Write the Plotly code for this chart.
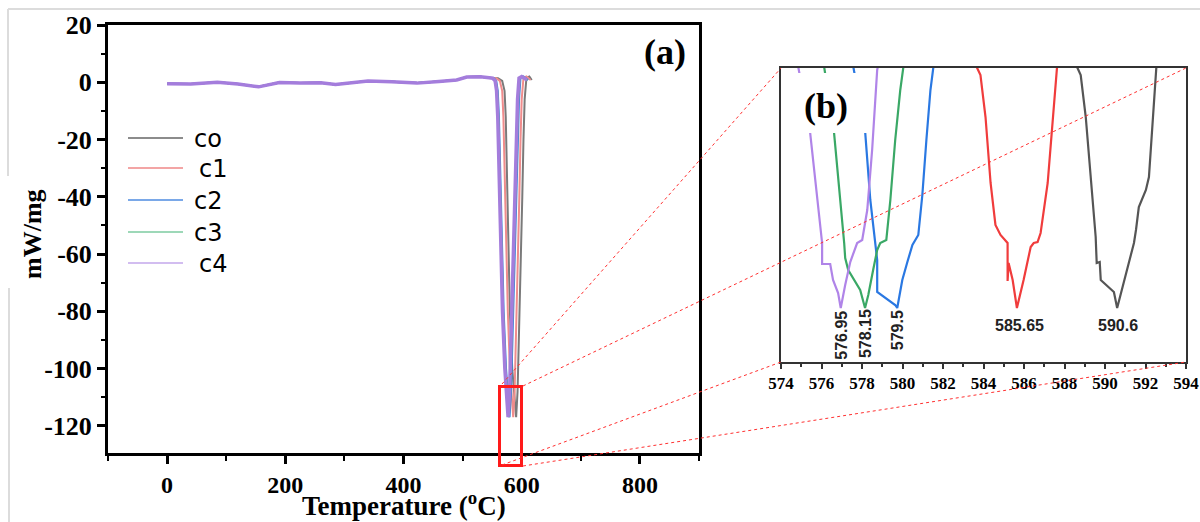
import plotly.graph_objects as go

# ---------------- data ----------------
series_names = ["co", "c1", "c2", "c3", "c4"]
peak_labels = ["590.6", "585.65", "579.5", "578.15", "576.95"]
peak_temps = [590.6, 585.65, 579.5, 578.15, 576.95]

x_ticks = [0, 200, 400, 600, 800]
y_ticks = [20, 0, -20, -40, -60, -80, -100, -120]
y_tick_text = ["20", "0", "-20", "-40", "-60", "-80", "-100", "-120"]
zoom_ticks = [574, 576, 578, 580, 582, 584, 586, 588, 590, 592, 594]

# shared baseline (T, mW/mg)
base_T = [0, 40, 85, 120, 155, 190, 225, 260, 285, 320, 340, 380, 423, 460, 490, 507, 530, 545]
base_v = [-0.5, -0.6, 0.0, -0.6, -1.6, -0.1, -0.3, -0.2, -0.8, 0.0, 0.4, 0.2, -0.3, 0.3, 0.8, 1.8, 1.9, 1.6]

# melting peak segments in panel (a)
peak_v = [1.6, 1.4, 0.5, -3, -12, -30, -55, -80, -100, -112, -117, -108, -85, -62, -40, -20, -6, 1.5, 2.0, 0.8]
co_T = [550, 560, 567, 571, 573, 575, 577, 580, 584, 588, 590.6, 593, 596, 598.5, 601, 603, 605, 608, 613, 617]
c1_T = [549, 557, 563, 567, 569, 571, 573.5, 576.5, 580, 583.5, 585.65, 588, 591, 593.5, 596, 598, 600, 603, 608, 615]
c2_T = [548, 553, 557, 559.5, 561.5, 563.5, 566, 569.5, 573.5, 577.5, 579.5, 582, 585, 588, 591, 593.5, 595.5, 598, 603, 611]
c3_T = [548, 552, 556, 558.5, 560.5, 562.5, 565, 568.5, 572.5, 576, 578.15, 580.5, 583.5, 586.5, 589.5, 592, 594, 596.5, 601, 610]
c4_T = [547, 551, 555, 557.5, 559.5, 561.5, 564, 567.5, 571.5, 575, 576.95, 579.5, 582.5, 585.5, 588.5, 591, 593, 595.5, 600, 609]
main_T = [co_T, c1_T, c2_T, c3_T, c4_T]

# zoomed peak bottoms, panel (b)
co_zT = [588.46, 588.80, 589.05, 589.30, 589.54, 589.59, 589.74, 589.79, 590.44, 590.60, 591.13, 591.43, 591.53, 591.67, 592.02, 592.17, 592.37, 592.47, 592.56]
co_zv = [-92.2, -93.7, -97.9, -104.5, -109.9, -112.5, -112.4, -114.2, -115.4, -117.0, -112.9, -110.5, -109.2, -106.9, -105.2, -103.9, -97.9, -94.5, -92.2]
c1_zT = [583.50, 583.85, 584.10, 584.35, 584.59, 584.84, 585.19, 585.19, 585.24, 585.44, 585.65, 585.98, 586.33, 586.48, 586.67, 586.82, 587.17, 587.42, 587.56, 587.66]
c1_zv = [-92.2, -93.7, -97.9, -104.5, -108.7, -109.7, -110.5, -114.3, -112.5, -114.2, -117.0, -114.2, -110.9, -110.5, -110.4, -109.5, -104.5, -97.9, -94.5, -92.2]
c2_zT = [577.51, 578.16, 578.41, 578.65, 578.75, 578.75, 579.30, 579.64, 579.74, 579.99, 580.24, 580.49, 580.78, 580.98, 581.18, 581.38, 581.57]
c2_zv = [-92.2, -99.5, -106.2, -110.5, -112.2, -115.4, -116.2, -116.7, -117.0, -114.2, -112.4, -110.7, -109.7, -105.7, -100.2, -95.2, -92.2]
c3_zT = [576.08, 576.62, 577.12, 577.17, 577.32, 577.91, 578.15, 578.31, 578.55, 578.75, 578.90, 579.20, 579.40, 579.64, 579.89, 580.09]
c3_zv = [-92.2, -99.5, -110.5, -112.0, -113.2, -115.2, -117.0, -115.7, -113.2, -111.2, -110.5, -110.2, -106.2, -100.2, -95.2, -92.2]
c4_zT = [574.79, 575.44, 576.03, 576.03, 576.43, 576.57, 576.82, 576.95, 577.17, 577.42, 577.76, 578.01, 578.26, 578.50, 578.75, 578.85]
c4_zv = [-92.2, -99.5, -110.5, -112.6, -112.6, -114.2, -115.5, -117.0, -114.7, -112.4, -110.5, -110.2, -107.2, -101.2, -93.2, -92.2]
zoom_T = [co_zT, c1_zT, c2_zT, c3_zT, c4_zT]
zoom_v = [co_zv, c1_zv, c2_zv, c3_zv, c4_zv]

# label anchor positions (T, value) in panel (b)
label_pos_T = [590.63, 585.8, 579.74, 578.15, 576.95]
label_pos_v = [-118.7, -118.7, -119.2, -119.6, -119.7]
label_angle = [0, 0, -90, -90, -90]

# ---------------- styles ----------------
main_colors = ["#7a7a7a", "#f08c8c", "#3f86d8", "#55b07f", "#a47ddc"]
main_widths = [2, 2, 2, 2, 3.5]
zoom_colors = ["#555555", "#f03c3c", "#2a78e2", "#3aa866", "#b084e8"]
legend_colors = ["#8c8c8c", "#f3a5a5", "#7aa8e8", "#9dd8b8", "#d2bdf0"]

W, H = 1200, 522
def px(x):
    return x / W
def py(y):
    return 1 - y / H

serif = "Liberation Serif"

fig = go.Figure()
for i, name in enumerate(series_names):
    fig.add_trace(go.Scatter(
        x=base_T + main_T[i], y=base_v + peak_v, mode="lines", name=name,
        line=dict(color=main_colors[i], width=main_widths[i]),
        xaxis="x", yaxis="y", showlegend=False))
for i, name in enumerate(series_names):
    fig.add_trace(go.Scatter(
        x=zoom_T[i], y=zoom_v[i], mode="lines", name=name,
        line=dict(color=zoom_colors[i], width=2.2),
        xaxis="x2", yaxis="y2", showlegend=False))

annotations = []
for i in range(len(series_names)):
    annotations.append(dict(
        x=label_pos_T[i], y=label_pos_v[i], xref="x2", yref="y2",
        text=peak_labels[i], showarrow=False, textangle=label_angle[i],
        font=dict(family="Liberation Sans", size=16, color="#222", weight="bold"),
        xanchor="center", yanchor="middle"))

def paper_text(x, y, text, size, family=serif, weight="bold", angle=0,
               xanchor="center", yanchor="middle"):
    return dict(x=px(x), y=py(y), xref="paper", yref="paper", text=text, showarrow=False,
                textangle=angle, xanchor=xanchor, yanchor=yanchor, borderpad=0,
                font=dict(family=family, size=size, color="black", weight=weight))

annotations.append(paper_text(665, 52, "(a)", 36))
annotations.append(paper_text(826, 106, "(b)", 36))
annotations.append(paper_text(404, 522, "Temperature (<sup>o</sup>C)", 27, yanchor="bottom"))
annotations.append(paper_text(32, 234, "mW/mg", 26, angle=-90))

leg_line_y = [138, 168, 200, 232, 263]
leg_text_x = [193, 198, 193, 193, 198]
shapes = []
for i, name in enumerate(series_names):
    shapes.append(dict(type="line", xref="paper", yref="paper",
                       x0=px(128), x1=px(183), y0=py(leg_line_y[i]), y1=py(leg_line_y[i]),
                       line=dict(color=legend_colors[i], width=1.8)))
    annotations.append(paper_text(leg_text_x[i], leg_line_y[i] + 1, name, 24,
                                  family="DejaVu Sans", weight="normal", xanchor="left"))

shapes.append(dict(type="rect", xref="paper", yref="paper", x0=px(792), x1=px(869),
                   y0=py(133), y1=py(73), fillcolor="white", line=dict(width=0), layer="above"))
shapes.append(dict(type="rect", xref="paper", yref="paper", x0=px(499.5), x1=px(521.5),
                   y0=py(465.5), y1=py(386.5), line=dict(color="#ff1a1a", width=3)))
for (xa, ya, xb, yb) in [(502, 384, 781, 68), (523, 386, 1186, 68),
                         (502, 465, 781, 362), (523, 466, 1186, 362)]:
    shapes.append(dict(type="line", xref="paper", yref="paper",
                       x0=px(xa), y0=py(ya), x1=px(xb), y1=py(yb),
                       line=dict(color="#ff3030", width=1, dash="dot")))
for (xa, ya, xb, yb) in [(8, 9, 1200, 9), (8, 9, 8, 176), (9, 288, 9, 522)]:
    shapes.append(dict(type="line", xref="paper", yref="paper",
                       x0=px(xa), y0=py(ya), x1=px(xb), y1=py(yb),
                       line=dict(color="#dcdcdc", width=2)))

fig.update_layout(
    template="none",
    width=W, height=H, margin=dict(l=0, r=0, t=0, b=0, pad=0, autoexpand=False),
    paper_bgcolor="white", plot_bgcolor="white", showlegend=False,
    xaxis=dict(domain=[px(108), px(699)], range=[-100, 900], tickmode="array", tickvals=x_ticks,
               ticks="outside", ticklen=8, tickwidth=2.5, tickcolor="black",
               showline=True, linewidth=3, linecolor="black", mirror=True,
               showgrid=False, zeroline=False, anchor="y", automargin=False,
               tickfont=dict(family=serif, size=24, color="black", weight="bold"),
               minor=dict(dtick=100, tick0=0, ticks="outside", ticklen=5, tickwidth=2, tickcolor="black")),
    yaxis=dict(domain=[py(453), py(25)], range=[-129.5, 20], tickmode="array",
               tickvals=y_ticks, ticktext=y_tick_text,
               ticks="outside", ticklen=8, tickwidth=2.5, tickcolor="black",
               showline=True, linewidth=3, linecolor="black", mirror=True,
               showgrid=False, zeroline=False, anchor="x", automargin=False,
               tickfont=dict(family=serif, size=26, color="black", weight="bold"),
               minor=dict(dtick=10, tick0=0, ticks="outside", ticklen=4, tickwidth=2, tickcolor="black")),
    xaxis2=dict(domain=[px(781), px(1186)], range=[574, 594], tickmode="array", tickvals=zoom_ticks,
                ticks="outside", ticklen=5, tickwidth=1.5, tickcolor="#333",
                showline=True, linewidth=2, linecolor="#333", mirror=True,
                showgrid=False, zeroline=False, anchor="y2", automargin=False,
                tickfont=dict(family=serif, size=17, color="black", weight="bold"),
                minor=dict(dtick=1, tick0=574, ticks="outside", ticklen=3, tickwidth=1.5, tickcolor="#333")),
    yaxis2=dict(domain=[py(362), py(68)], range=[-122.4, -93], showticklabels=False, ticks="",
                showline=True, linewidth=2, linecolor="#333", mirror=True,
                showgrid=False, zeroline=False, anchor="x2", automargin=False),
    annotations=annotations, shapes=shapes,
)

fig.write_html("out.html")
